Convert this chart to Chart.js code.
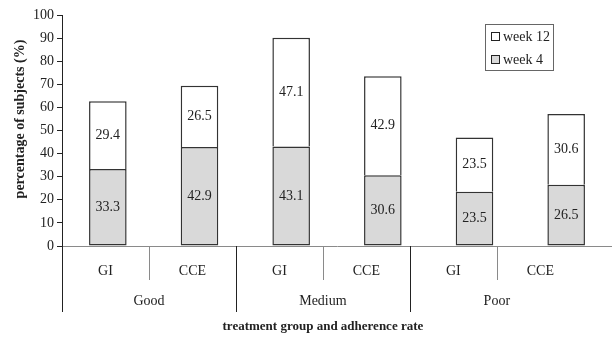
<!DOCTYPE html>
<html>
<head>
<meta charset="utf-8">
<script src="https://cdn.jsdelivr.net/npm/chart.js@4.4.0/dist/chart.umd.min.js"></script>
<style>
  html, body { margin: 0; padding: 0; background: #fff; }
</style>
</head>
<body>
<canvas id="chart" width="612" height="339"></canvas>
<script>
// data
const treatments = ['GI', 'CCE', 'GI', 'CCE', 'GI', 'CCE'];
const adherence = ['Good', 'Medium', 'Poor'];
const week4 = [33.3, 42.9, 43.1, 30.6, 23.5, 26.5];
const week12 = [29.4, 26.5, 47.1, 42.9, 23.5, 30.6];
const seriesNames = ['week 4', 'week 12'];

const serif = '"Liberation Serif", "DejaVu Serif", serif';
const ink = '#222';

// the labelled axis in the picture is a bit narrower than the bars' axis
const labelAxisMax = 6 * 91.7 / 87;

// numbers inside each segment
const valueLabels = {
  id: 'valueLabels',
  afterDatasetsDraw(chart) {
    const ctx = chart.ctx;
    ctx.save();
    ctx.font = '14px ' + serif;
    ctx.fillStyle = ink;
    ctx.textAlign = 'center';
    ctx.textBaseline = 'middle';
    chart.data.datasets.forEach((ds, i) => {
      chart.getDatasetMeta(i).data.forEach((bar, j) => {
        const mid = (bar.y + bar.base) / 2;
        ctx.fillText(ds.data[j].toFixed(1), bar.x, mid);
      });
    });
    ctx.restore();
  }
};

// group labels, separators and the axis titles
const groupAxis = {
  id: 'groupAxis',
  afterDraw(chart) {
    const ctx = chart.ctx;
    const xs = chart.scales.xg;
    const base = chart.scales.y.getPixelForValue(0);
    ctx.save();
    ctx.lineWidth = 1;
    for (let k = 0; k <= 5; k++) {
      const px = Math.round(xs.getPixelForValue(k)) + 0.5;
      const long = k % 2 === 0;
      ctx.strokeStyle = long ? ink : '#8a8a8a';
      ctx.beginPath();
      ctx.moveTo(px, base);
      ctx.lineTo(px, long ? 312 : 280);
      ctx.stroke();
    }
    ctx.font = '14px ' + serif;
    ctx.fillStyle = ink;
    ctx.textAlign = 'center';
    ctx.textBaseline = 'middle';
    adherence.forEach((g, i) => {
      ctx.fillText(g, xs.getPixelForValue(2 * i + 1), 301);
    });
    ctx.font = 'bold 13px ' + serif;
    ctx.fillText('treatment group and adherence rate', xs.getPixelForValue(3), 327);

    ctx.font = 'bold 14px ' + serif;
    ctx.translate(20, 119);
    ctx.rotate(-Math.PI / 2);
    ctx.fillText('percentage of subjects (%)', 0, 0);
    ctx.restore();
  }
};

// boxed legend, week 12 on top
const boxLegend = {
  id: 'boxLegend',
  afterDraw(chart) {
    const ctx = chart.ctx;
    const order = [1, 0];
    ctx.save();
    ctx.strokeStyle = '#666';
    ctx.lineWidth = 1;
    ctx.strokeRect(485.5, 24.5, 68, 46);
    ctx.font = '14px ' + serif;
    ctx.textBaseline = 'middle';
    order.forEach((i, row) => {
      const ds = chart.data.datasets[i];
      const cy = 37 + row * 23;
      ctx.fillStyle = ds.backgroundColor;
      ctx.fillRect(491.5, cy - 4.5, 8, 8);
      ctx.strokeStyle = ink;
      ctx.strokeRect(491.5, cy - 4.5, 8, 8);
      ctx.fillStyle = ink;
      ctx.fillText(ds.label, 503, cy);
    });
    ctx.restore();
  }
};

new Chart(document.getElementById('chart'), {
  type: 'bar',
  data: {
    labels: treatments,
    datasets: [
      {
        label: seriesNames[0],
        data: week4,
        backgroundColor: '#d9d9d9',
        borderColor: '#333',
        borderWidth: 1.5,
        borderSkipped: false
      },
      {
        label: seriesNames[1],
        data: week12,
        backgroundColor: '#ffffff',
        borderColor: '#333',
        borderWidth: 1.5,
        borderSkipped: 'bottom'
      }
    ]
  },
  options: {
    responsive: false,
    animation: false,
    layout: { padding: { top: 15, right: 0, left: 0, bottom: 0 } },
    plugins: {
      legend: { display: false },
      tooltip: { enabled: false }
    },
    datasets: {
      bar: { categoryPercentage: 1, barPercentage: 0.41 }
    },
    scales: {
      x: {
        stacked: true,
        display: false
      },
      xg: {
        type: 'linear',
        position: 'bottom',
        offset: false,
        bounds: 'data',
        min: 0,
        max: labelAxisMax,
        afterBuildTicks(scale) {
          scale.ticks = treatments.map((t, i) => ({ value: i + 0.5 }));
        },
        afterFit(scale) { scale.height = 93; },
        grid: { display: false, drawTicks: false, offset: false },
        border: { color: '#8a8a8a', width: 1 },
        ticks: {
          padding: 17,
          color: ink,
          font: { family: serif, size: 14 },
          maxRotation: 0,
          autoSkip: false,
          callback: (v, i) => treatments[i]
        }
      },
      y: {
        stacked: true,
        min: 0,
        max: 100,
        afterFit(scale) { scale.width = 62; },
        grid: { drawOnChartArea: false, drawTicks: true, tickLength: 5, color: ink },
        border: { color: ink, width: 1 },
        ticks: {
          stepSize: 10,
          padding: 3,
          color: ink,
          font: { family: serif, size: 14 }
        },
        title: { display: false }
      }
    }
  },
  plugins: [valueLabels, groupAxis, boxLegend]
});
</script>
</body>
</html>
